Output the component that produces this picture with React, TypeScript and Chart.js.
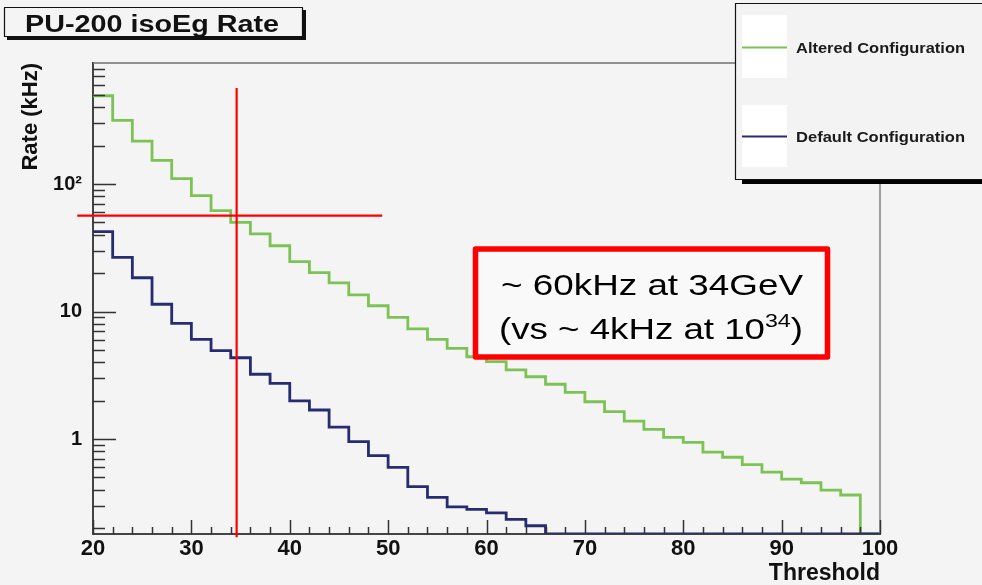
import React, { useEffect, useRef } from 'react';
import { Chart, registerables } from 'chart.js';

Chart.register(...registerables);

// ---------------- data ----------------
const binEdges = [20, 22, 24, 26, 28, 30, 32, 34, 36, 38, 40, 42, 44, 46, 48, 50, 52, 54, 56, 58, 60,
  62, 64, 66, 68, 70, 72, 74, 76, 78, 80, 82, 84, 86, 88, 90, 92, 94, 96, 98, 100];

const alteredRate = [492, 316, 217, 153, 110, 81, 61.8, 50, 40.6, 32.8, 24.6, 20.2, 16.8, 13.5, 11.1,
  9.0, 7.3, 6.05, 5.14, 4.42, 4.04, 3.48, 3.08, 2.69, 2.32, 1.96, 1.64, 1.38, 1.19, 1.03,
  0.94, 0.79, 0.72, 0.63, 0.55, 0.485, 0.454, 0.398, 0.364, 0];

const defaultRate = [42.3, 26.6, 18.4, 11.4, 8.07, 6.05, 4.93, 4.34, 3.22, 2.73, 1.99, 1.69, 1.24, 0.953,
  0.74, 0.6, 0.423, 0.349, 0.294, 0.281, 0.264, 0.234, 0.209, 0, 0, 0, 0, 0, 0, 0, 0, 0, 0, 0, 0, 0, 0, 0, 0, 0];

const seriesNames = ['Altered Configuration', 'Default Configuration'];
const seriesColors = ['#7cc255', '#272c70'];

const xRange = [20, 100];
const xMajorStep = 10;
const xMinorStep = 2;
const yRange = [0.18, 889];
const yMajorTicks = [1, 10, 100];
const yTickLabels = ['1', '10', '10²'];

const chartTitle = 'PU-200 isoEg Rate';
const xTitle = 'Threshold';
const yTitle = 'Rate (kHz)';

// cut lines (data space)
const cutThreshold = 34.6;
const cutRate = 56.4;
const cutRateLineFrom = 18.4;
const cutRateLineTo = 49.4;
const cutThresholdLineTop = 566;
const cutThresholdLineBottom = 0.17;

const noteLine1 = '~ 60kHz at 34GeV';
const noteLine2 = '(vs ~ 4kHz at 10';
const noteSup = '34';
const noteEnd = ')';

// ---------------- helpers ----------------
const FONT = '"Liberation Sans", Arial, Helvetica, sans-serif';
const BG = '#f4f4f4';

// empty bins (rate 0) are drawn on the floor of the log axis, as ROOT does
function toSteps(rates: number[]) {
  return binEdges.map((x, i) => {
    const r = i < rates.length ? rates[i] : rates[rates.length - 1];
    return { x, y: r > 0 ? r : yRange[0] };
  });
}

function fitText(ctx: CanvasRenderingContext2D, text: string, x: number, baseline: number, font: string,
  width: number, color: string) {
  ctx.save();
  ctx.font = font;
  ctx.fillStyle = color;
  ctx.textAlign = 'left';
  ctx.textBaseline = 'alphabetic';
  const w = ctx.measureText(text).width;
  ctx.translate(x, baseline);
  ctx.scale(width / w, 1);
  ctx.fillText(text, 0, 0);
  ctx.restore();
}

function seg(ctx: CanvasRenderingContext2D, x1: number, y1: number, x2: number, y2: number) {
  ctx.beginPath();
  ctx.moveTo(x1, y1);
  ctx.lineTo(x2, y2);
  ctx.stroke();
}

const decorPlugin = {
  id: 'decor',
  beforeDraw(chart: any) {
    const ctx = chart.ctx as CanvasRenderingContext2D;
    ctx.save();
    ctx.fillStyle = BG;
    ctx.fillRect(0, 0, chart.width, chart.height);
    ctx.restore();
  },
  afterDraw(chart: any) {
    const ctx = chart.ctx as CanvasRenderingContext2D;
    const a = chart.chartArea;
    const xs = chart.scales.x;
    const ys = chart.scales.y;
    ctx.save();

    // frame (top / right)
    ctx.strokeStyle = '#707070';
    ctx.lineWidth = 1.3;
    seg(ctx, a.left, a.top, a.right, a.top);
    seg(ctx, a.right, a.top, a.right, a.bottom);

    // inner ticks, y axis
    ctx.strokeStyle = '#333';
    ctx.lineWidth = 1.5;
    const dMin = Math.floor(Math.log10(ys.min));
    const dMax = Math.ceil(Math.log10(ys.max));
    for (let d = dMin; d <= dMax; d++) {
      for (let k = 1; k <= 9; k++) {
        const v = k * Math.pow(10, d);
        if (v < ys.min * 0.999 || v > ys.max) continue;
        const py = Math.round(ys.getPixelForValue(v)) + 0.5;
        seg(ctx, a.left, py, a.left + (k === 1 ? 23 : 12), py);
      }
    }
    // inner ticks, x axis
    for (let t = xs.min; t <= xs.max + 1e-6; t += xMinorStep) {
      const px = Math.round(xs.getPixelForValue(t)) + 0.5;
      const major = Math.abs(t % xMajorStep) < 1e-6;
      seg(ctx, px, a.bottom, px, a.bottom - (major ? 14 : 7));
    }

    // red cut lines
    ctx.strokeStyle = '#ff0000';
    ctx.lineWidth = 2.2;
    const hy = ys.getPixelForValue(cutRate);
    seg(ctx, xs.getPixelForValue(cutRateLineFrom), hy, xs.getPixelForValue(cutRateLineTo), hy);
    const vx = xs.getPixelForValue(cutThreshold);
    seg(ctx, vx, ys.getPixelForValue(cutThresholdLineTop), vx, ys.getPixelForValue(cutThresholdLineBottom));

    // annotation box
    ctx.fillStyle = '#f9f9f9';
    ctx.fillRect(475.5, 249, 352, 108);
    ctx.strokeStyle = '#ff0000';
    ctx.lineWidth = 5.5;
    ctx.lineJoin = 'round';
    ctx.strokeRect(475.5, 249, 352, 108);
    fitText(ctx, noteLine1, 501, 295, `30px ${FONT}`, 302, '#000');
    {
      ctx.save();
      ctx.font = `30px ${FONT}`;
      const w1 = ctx.measureText(noteLine2).width;
      const w3 = ctx.measureText(noteEnd).width;
      ctx.font = `19px ${FONT}`;
      const w2 = ctx.measureText(noteSup).width;
      const total = w1 + w2 + w3;
      const sx = 304 / total;
      ctx.translate(499, 339);
      ctx.scale(sx, 1);
      ctx.fillStyle = '#000';
      ctx.textBaseline = 'alphabetic';
      ctx.textAlign = 'left';
      ctx.font = `30px ${FONT}`;
      ctx.fillText(noteLine2, 0, 0);
      ctx.font = `19px ${FONT}`;
      ctx.fillText(noteSup, w1, -12);
      ctx.font = `30px ${FONT}`;
      ctx.fillText(noteEnd, w1 + w2, 0);
      ctx.restore();
    }

    // legend box
    ctx.fillStyle = '#000';
    ctx.fillRect(742, 179, 260, 5);
    ctx.fillStyle = '#f3f3f3';
    ctx.fillRect(735, 3, 260, 176);
    ctx.strokeStyle = '#111';
    ctx.lineWidth = 1.2;
    ctx.strokeRect(735.5, 3.5, 260, 176);
    ctx.fillStyle = '#ffffff';
    ctx.fillRect(742, 15, 45, 63);
    ctx.fillRect(742, 105, 45, 62);
    ctx.lineWidth = 2.2;
    ctx.strokeStyle = seriesColors[0];
    seg(ctx, 742, 47.5, 787, 47.5);
    ctx.strokeStyle = seriesColors[1];
    seg(ctx, 742, 136.5, 787, 136.5);
    fitText(ctx, seriesNames[0], 796, 53, `bold 15px ${FONT}`, 169, '#1a1a1a');
    fitText(ctx, seriesNames[1], 796, 141.5, `bold 15px ${FONT}`, 169, '#1a1a1a');

    // title box
    ctx.fillStyle = '#111';
    ctx.fillRect(7, 10, 299, 30);
    ctx.fillStyle = BG;
    ctx.fillRect(4, 7, 299, 30);
    ctx.strokeStyle = '#111';
    ctx.lineWidth = 1.2;
    ctx.strokeRect(4.5, 7.5, 298, 29);
    fitText(ctx, chartTitle, 25, 31.5, `bold 23px ${FONT}`, 254, '#111');

    ctx.restore();
  },
};

export default function App() {
  const ref = useRef<HTMLCanvasElement>(null);

  useEffect(() => {
    const canvas = ref.current;
    if (!canvas) return;
    Chart.defaults.font.family = FONT;
    const chart = new Chart(canvas, {
      type: 'line',
      data: {
        datasets: [
          {
            label: seriesNames[1],
            data: toSteps(defaultRate),
            borderColor: seriesColors[1],
            borderWidth: 2.8,
            stepped: 'before',
            pointRadius: 0,
            fill: false,
            borderJoinStyle: 'miter',
          },
          {
            label: seriesNames[0],
            data: toSteps(alteredRate),
            borderColor: seriesColors[0],
            borderWidth: 2.8,
            stepped: 'before',
            pointRadius: 0,
            fill: false,
            borderJoinStyle: 'miter',
          },
        ],
      },
      options: {
        responsive: false,
        animation: false,
        events: [],
        layout: { padding: { left: 0, top: 63, right: 102, bottom: 0 } },
        plugins: {
          legend: { display: false },
          tooltip: { enabled: false },
          title: { display: false },
        },
        scales: {
          x: {
            type: 'linear',
            min: xRange[0],
            max: xRange[1],
            grid: { display: false, drawTicks: false },
            border: { display: true, color: '#444', width: 2 },
            ticks: {
              stepSize: xMajorStep,
              padding: 4,
              maxRotation: 0,
              autoSkip: false,
              color: '#111',
              font: { size: 22, weight: 'bold', lineHeight: 1 },
            },
            title: {
              display: true,
              text: xTitle,
              align: 'end',
              color: '#111',
              font: { size: 23, weight: 'bold', lineHeight: 1 },
              padding: { top: 0, bottom: 0 },
            },
            afterFit: (s: any) => { s.height = 51; },
          },
          y: {
            type: 'logarithmic',
            min: yRange[0],
            max: yRange[1],
            grid: { display: false, drawTicks: false },
            border: { display: true, color: '#444', width: 2 },
            afterBuildTicks: (s: any) => {
              s.ticks = yMajorTicks.map((v) => ({ value: v, major: true }));
            },
            ticks: {
              padding: 11,
              color: '#111',
              font: { size: 20, weight: 'bold' },
              callback: (v: any) => {
                const i = yMajorTicks.indexOf(Number(v));
                return i >= 0 ? yTickLabels[i] : '';
              },
            },
            title: {
              display: true,
              text: yTitle,
              align: 'end',
              color: '#111',
              font: { size: 22, weight: 'bold' },
              padding: { top: 18, bottom: 0 },
            },
            afterFit: (s: any) => { s.width = 93; },
          },
        },
      },
      plugins: [decorPlugin],
    } as any);
    return () => chart.destroy();
  }, []);

  return (
    <div style={{ position: 'fixed', left: 0, top: 0, width: 982, height: 585, background: BG }}>
      <canvas ref={ref} width={982} height={585} style={{ display: 'block', width: 982, height: 585 }} />
    </div>
  );
}
